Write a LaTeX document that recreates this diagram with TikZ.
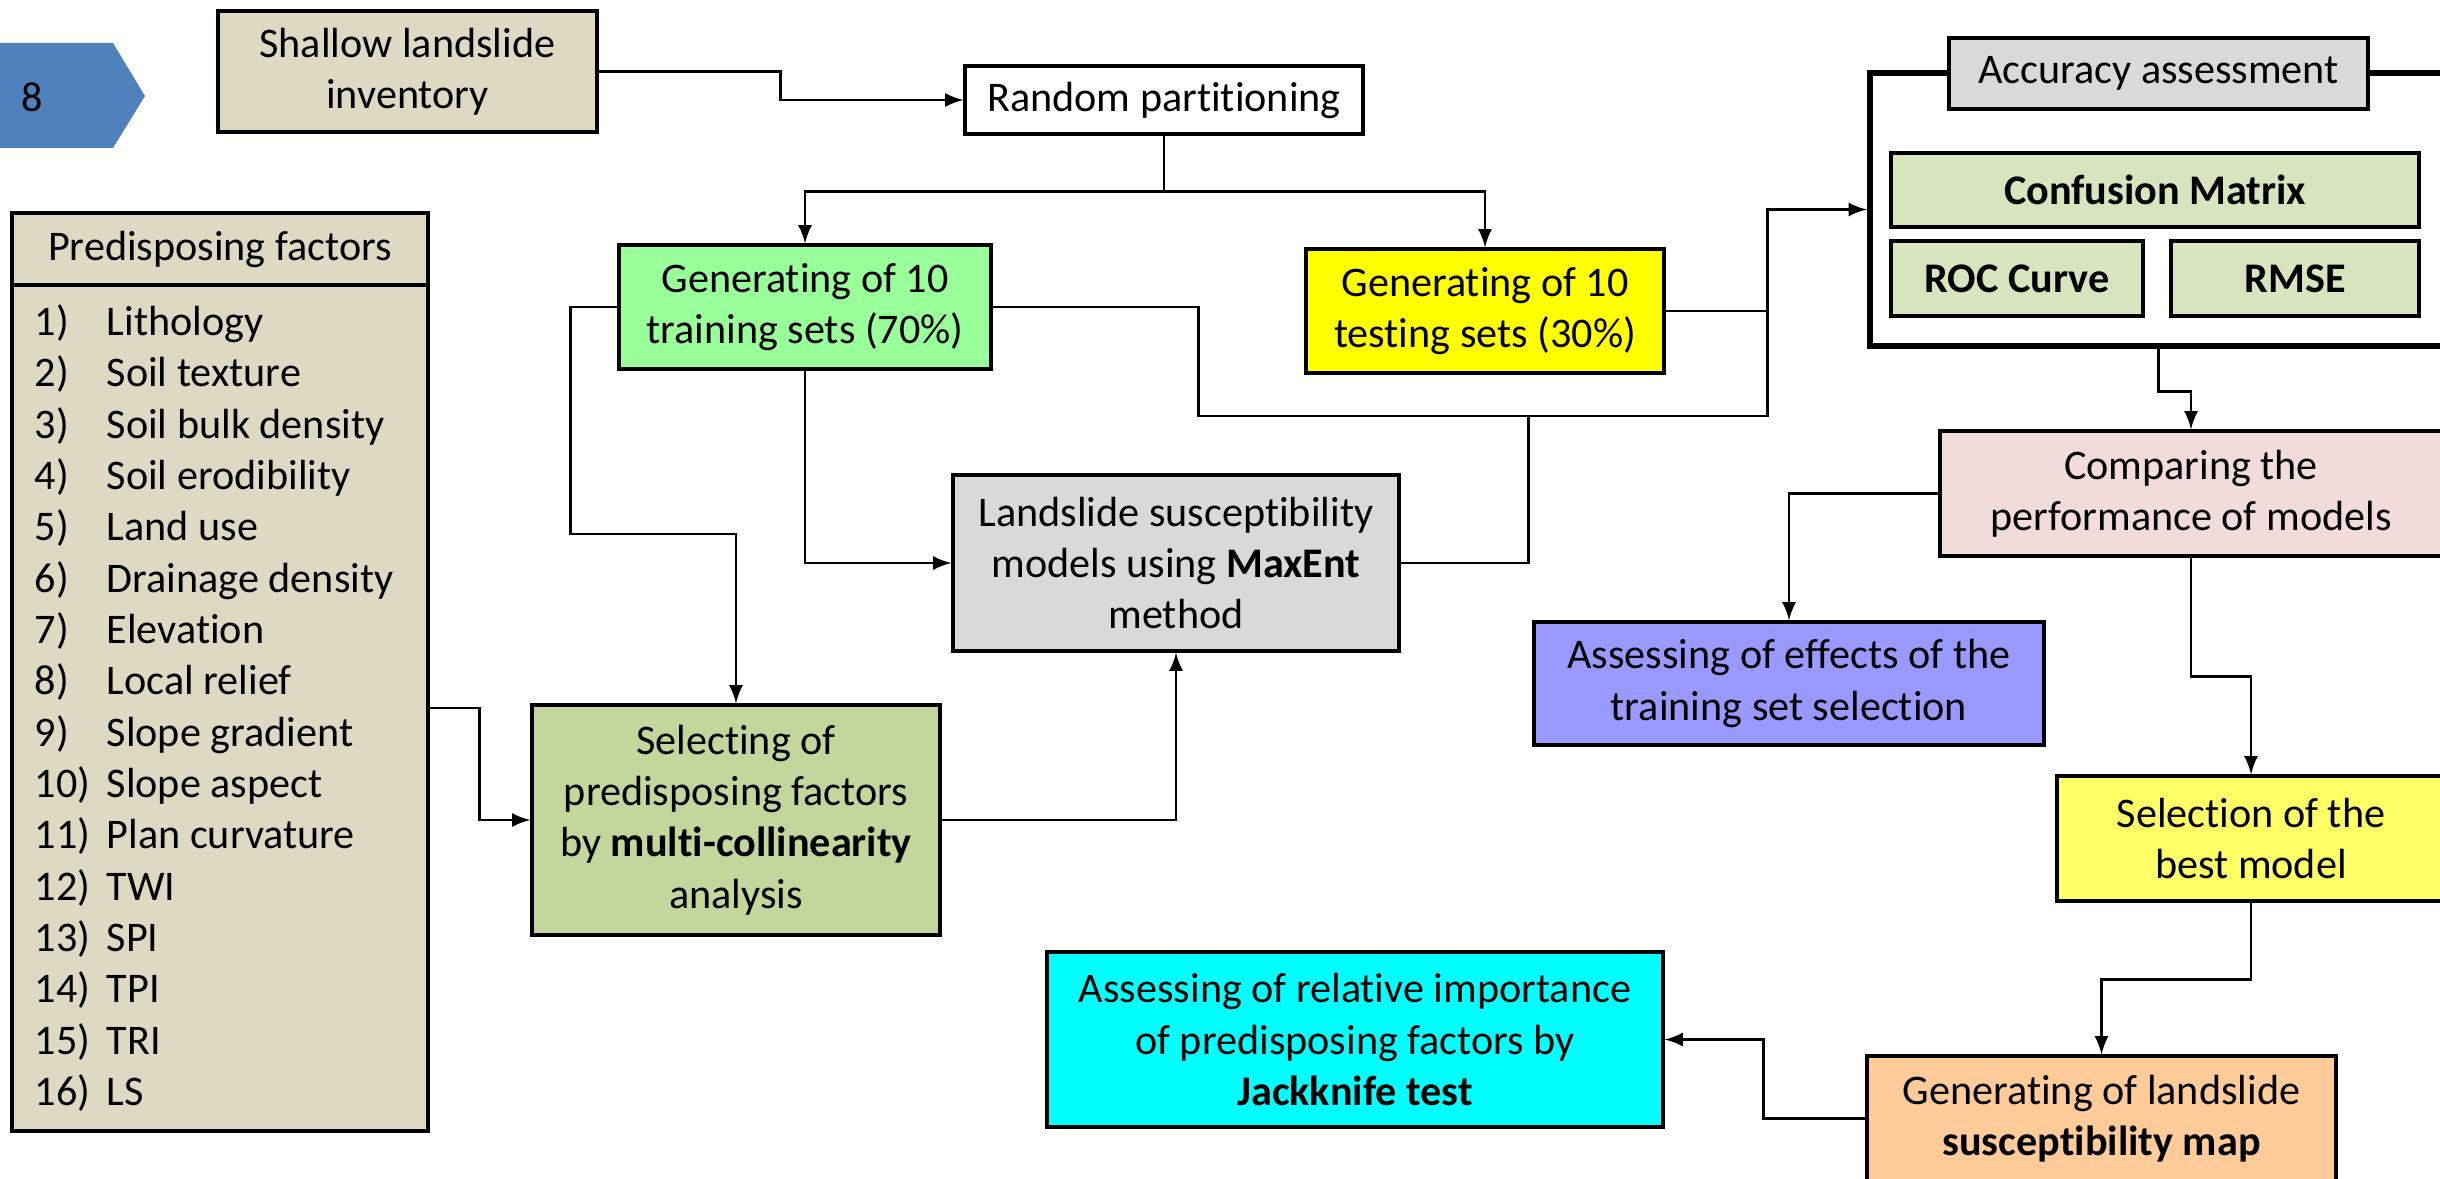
\documentclass[tikz,border=0pt]{standalone}
\usepackage{fontspec}
\setmainfont[Ligatures=NoCommon]{Carlito}
\usepackage{tikz}
\usetikzlibrary{arrows}
\definecolor{stepblue}{HTML}{4F81BD}
\definecolor{beige}{HTML}{DDD9C3}
\definecolor{traingreen}{HTML}{99FF99}
\definecolor{testyellow}{HTML}{FFFF00}
\definecolor{modelgray}{HTML}{D9D9D9}
\definecolor{olive}{HTML}{C3D69B}
\definecolor{measure}{HTML}{D7E4BD}
\definecolor{rose}{HTML}{F2DCDB}
\definecolor{lilac}{HTML}{9999FF}
\definecolor{paleyellow}{HTML}{FFFF66}
\definecolor{peach}{HTML}{FFCC99}
\definecolor{aqua}{HTML}{00FFFF}
\tikzstyle{block} = [
  draw,
  rectangle,
  align=center,
  inner sep=0pt,
  line width=0.9pt,
]
\tikzstyle{link} = [
  -latex,
  line width=0.8pt,
]
\tikzstyle{wire} = [
  line width=0.8pt,
]

\begin{document}
\begin{tikzpicture}[
    auto,
    font=\fontsize{12}{14.6}\selectfont,
  ]
  \useasboundingbox (0,0) rectangle (24.4,-11.78);
  \clip (0,0) rectangle (24.4,-11.78);
  % step marker
  \fill[stepblue] (-0.1,-0.43) -- (1.13,-0.43) -- (1.45,-0.96)
    -- (1.13,-1.48) -- (-0.1,-1.48) -- cycle;
  \node (stepno) at (0.32,-0.97) {8};
  % inputs
  \node[
    block,
    fill=beige,
    minimum width=3.79cm,
    minimum height=1.21cm,
  ] (shallow) at (4.075,-0.715) {Shallow landslide\\inventory};
  \node[
    block,
    fill=white,
    minimum width=3.98cm,
    minimum height=0.68cm,
  ] (random) at (11.64,-1.00) {Random partitioning};
  \node[
    block,
    fill=beige,
    minimum width=4.16cm,
    minimum height=8.46cm,
  ] (factors) at (2.20,-7.08) {};
  \node[
    block,
    fill=beige,
    minimum width=4.16cm,
    minimum height=0.72cm,
  ] (factorshead) at (2.20,-2.49) {Predisposing factors};
  \node[
    anchor=north west,
    inner sep=0pt,
  ] (factorlist) at (0.34,-2.99) {%
    \begin{tabular}{@{}p{0.72cm}@{}l@{}}
      1) & Lithology\\
      2) & Soil texture\\
      3) & Soil bulk density\\
      4) & Soil erodibility\\
      5) & Land use\\
      6) & Drainage density\\
      7) & Elevation\\
      8) & Local relief\\
      9) & Slope gradient\\
      10) & Slope aspect\\
      11) & Plan curvature\\
      12) & TWI\\
      13) & SPI\\
      14) & TPI\\
      15) & TRI\\
      16) & LS
    \end{tabular}};
  % modelling
  \node[
    block,
    fill=traingreen,
    minimum width=3.72cm,
    minimum height=1.24cm,
  ] (training) at (8.05,-3.07) {Generating of 10\\training sets (70\%)};
  \node[
    block,
    fill=testyellow,
    minimum width=3.58cm,
    minimum height=1.24cm,
  ] (testing) at (14.85,-3.11) {Generating of 10\\testing sets (30\%)};
  \node[
    block,
    fill=modelgray,
    minimum width=4.46cm,
    minimum height=1.76cm,
  ] (maxent) at (11.76,-5.63)
    {Landslide susceptibility\\models using \textbf{MaxEnt}\\method};
  \node[
    block,
    fill=olive,
    minimum width=4.08cm,
    minimum height=2.30cm,
  ] (select) at (7.36,-8.20)
    {Selecting of\\predisposing factors\\by \textbf{multi-collinearity}\\analysis};
  % accuracy assessment
  \node[
    draw,
    rectangle,
    line width=1.8pt,
    minimum width=6.30cm,
    minimum height=2.73cm,
  ] (frame) at (21.85,-2.095) {};
  \node[
    block,
    fill=modelgray,
    minimum width=4.19cm,
    minimum height=0.71cm,
  ] (accuracy) at (21.585,-0.735) {Accuracy assessment};
  \node[
    block,
    fill=measure,
    minimum width=5.28cm,
    minimum height=0.74cm,
  ] (confusion) at (21.55,-1.90) {\textbf{Confusion Matrix}};
  \node[
    block,
    fill=measure,
    minimum width=2.52cm,
    minimum height=0.75cm,
  ] (roc) at (20.17,-2.785) {\textbf{ROC Curve}};
  \node[
    block,
    fill=measure,
    minimum width=2.48cm,
    minimum height=0.75cm,
  ] (rmse) at (22.95,-2.785) {\textbf{RMSE}};
  % results
  \node[
    block,
    fill=rose,
    minimum width=5.02cm,
    minimum height=1.25cm,
  ] (comparing) at (21.91,-4.935) {Comparing the\\performance of models};
  \node[
    block,
    fill=lilac,
    minimum width=5.10cm,
    minimum height=1.23cm,
  ] (effects) at (17.89,-6.835) {Assessing of effects of the\\training set selection};
  \node[
    block,
    fill=paleyellow,
    minimum width=3.88cm,
    minimum height=1.25cm,
  ] (best) at (22.51,-8.385) {Selection of the\\best model};
  \node[
    block,
    fill=peach,
    minimum width=4.69cm,
    minimum height=1.25cm,
  ] (map) at (21.015,-11.185)
    {Generating of landslide\\\textbf{susceptibility map}};
  \node[
    block,
    fill=aqua,
    minimum width=6.16cm,
    minimum height=1.75cm,
  ] (jack) at (13.55,-10.395)
    {Assessing of relative importance\\of predisposing factors by\\\textbf{Jackknife test}};
  % connectors
  \draw[link] (shallow.east) -- ++(1.82,0) |- (random.west);
  \draw[link] (random.south) -- ++(0,-0.56) -| (training.north);
  \draw[link] (random.south) -- ++(0,-0.56) -| (testing.north);
  \draw[link] (training.west) -| ++(-0.47,-2.27) -| (select.north);
  \draw[link] (training.south) |- (maxent.west);
  \draw[link] (training.east) -- ++(2.06,0) |- ++(5.69,-1.09) |- (frame.west);
  \draw[wire] (testing.east) -- ++(1.02,0);
  \draw[wire] (maxent.east) -| ++(1.28,1.47);
  \draw[link] (factors.east) -- ++(0.5,0) |- (select.west);
  \draw[link] (select.east) -| (maxent.south);
  \draw[link] (accuracy |- frame.south) -- ++(0,-0.42) -| (comparing.north);
  \draw[link] (comparing.west) -| (effects.north);
  \draw[link] (comparing.south) -- ++(0,-1.19) -| (best.north);
  \draw[link] (best.south) -- ++(0,-0.77) -| (map.north);
  \draw[link] (map.west) -- ++(-1.02,0) |- (jack.east);
\end{tikzpicture}
\end{document}
